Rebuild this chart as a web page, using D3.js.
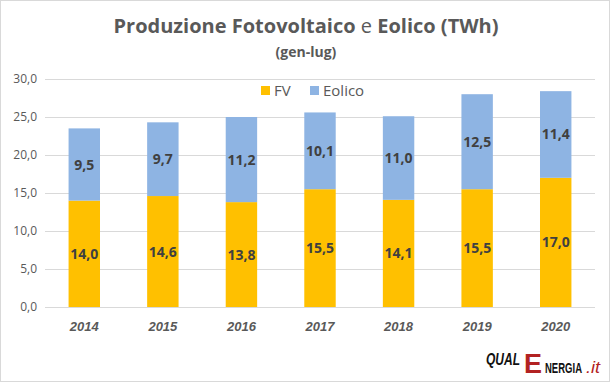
<!DOCTYPE html>
<html><head><meta charset="utf-8">
<script src="https://cdn.jsdelivr.net/npm/d3@7"></script>
<style>body{margin:0;background:#fff}svg{display:block}</style>
</head><body>
<script>
const years = ["2014","2015","2016","2017","2018","2019","2020"];
const fv = [14.0,14.6,13.8,15.5,14.1,15.5,17.0];
const eolico = [9.5,9.7,11.2,10.1,11.0,12.5,11.4];
const yTicks = [0,5,10,15,20,25,30];
const seriesNames = ["FV","Eolico"];
const colors = ["#FFC000","#8EB4E3"];

const W=611,H=383;
const svg=d3.select("body").append("svg").attr("width",W).attr("height",H).style("font-family","Open Sans, Calibri, sans-serif");
svg.append("rect").attr("x",0.5).attr("y",0.5).attr("width",W-2).attr("height",H-2).attr("fill","#fff").attr("stroke","#d9d9d9");

const x=d3.scaleBand().domain(years).range([45,595]).paddingInner(0.6).paddingOuter(0.3);
const y=d3.scaleLinear().domain([0,30]).range([307,79]);
const fmt=v=>d3.format(".1f")(v).replace(".",",");

svg.append("g").selectAll("line").data(yTicks).join("line")
 .attr("x1",45).attr("x2",595).attr("y1",d=>y(d)+0.5).attr("y2",d=>y(d)+0.5).attr("stroke","#d9d9d9");

const yAxis=d3.axisLeft(y).tickValues(yTicks).tickFormat(fmt).tickSize(0).tickPadding(8);
const ga=svg.append("g").attr("transform","translate(45,0)").call(yAxis);
ga.select(".domain").remove();
ga.selectAll("text").attr("fill","#595959").style("font-size","12px").style("font-family","Open Sans, sans-serif");

const xAxis=d3.axisBottom(x).tickSize(0).tickPadding(15);
const gx=svg.append("g").attr("transform","translate(0,307)").call(xAxis);
gx.select(".domain").remove();
gx.selectAll("text").attr("fill","#595959").style("font-size","13px").style("font-weight","bold").style("font-style","italic");

const stackData=years.map((yr,i)=>({year:yr,FV:fv[i],Eolico:eolico[i]}));
const stack=d3.stack().keys(seriesNames)(stackData);
const layers=svg.append("g").selectAll("g").data(stack).join("g").attr("fill",(d,i)=>colors[i]);
layers.selectAll("rect").data(d=>d).join("rect")
 .attr("x",d=>x(d.data.year)).attr("width",x.bandwidth())
 .attr("y",d=>y(d[1])).attr("height",d=>y(d[0])-y(d[1]));
const lab=svg.append("g").selectAll("g").data(stack).join("g");
lab.selectAll("text").data(d=>d.map(p=>({p,key:d.key}))).join("text")
 .attr("x",d=>x(d.p.data.year)+x.bandwidth()/2)
 .attr("y",d=>(y(d.p[0])+y(d.p[1]))/2+5)
 .attr("text-anchor","middle").attr("fill","#404040")
 .style("font-size","14px").style("font-weight","bold")
 .text(d=>fmt(d.p.data[d.key]));

// title
const t=svg.append("text").attr("x",306).attr("y",33).attr("text-anchor","middle").attr("fill","#595959").style("font-size","20px").style("font-weight","bold");
t.append("tspan").text("Produzione Fotovoltaico ");
t.append("tspan").style("font-weight","normal").text("e");
t.append("tspan").text(" Eolico (TWh)");
svg.append("text").attr("x",306).attr("y",57).attr("text-anchor","middle").attr("fill","#595959").style("font-size","14px").style("font-weight","bold").text("(gen-lug)");

// legend
const lg=svg.append("g").attr("transform","translate(261,84)");
const items=[{n:"FV",dx:0},{n:"Eolico",dx:49}];
items.forEach((it,i)=>{
 lg.append("rect").attr("x",it.dx).attr("y",2).attr("width",9).attr("height",9).attr("fill",colors[i]);
 lg.append("text").attr("x",it.dx+13).attr("y",12).attr("fill","#595959").style("font-size","15px").text(it.n);
});

// logo
const logoParts=[
 {t:"QUAL",x:486,y:365,len:34,size:16,fill:"#111",style:"italic",w:"bold"},
 {t:"E",x:524,y:373,len:18,size:27,fill:"#b22222",style:"normal",w:"bold"},
 {t:"NERGIA",x:545,y:373,len:37,size:15,fill:"#111",style:"normal",w:"bold"},
 {t:".it",x:586,y:373,len:14,size:16,fill:"#b22222",style:"italic",w:"normal"}
];
svg.append("text").style("font-family","Liberation Sans, Arial, sans-serif")
 .selectAll("tspan").data(logoParts).join("tspan")
 .attr("x",d=>d.x).attr("y",d=>d.y).attr("fill",d=>d.fill)
 .attr("textLength",d=>d.len).attr("lengthAdjust","spacingAndGlyphs")
 .style("font-size",d=>d.size+"px").style("font-style",d=>d.style).style("font-weight",d=>d.w)
 .text(d=>d.t);
</script>
</body></html>
